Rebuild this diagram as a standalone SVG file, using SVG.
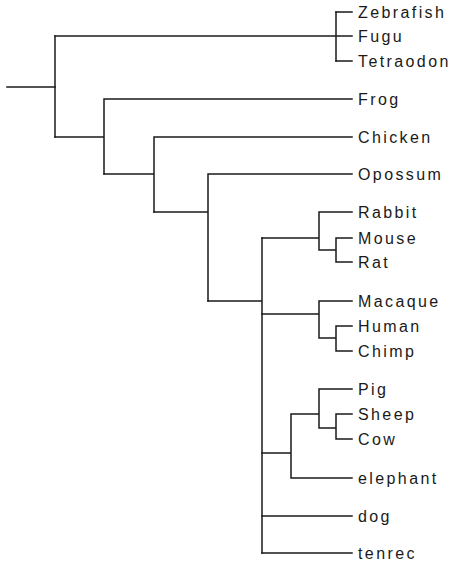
<svg xmlns="http://www.w3.org/2000/svg" width="452" height="568" viewBox="0 0 452 568">
  <style>
    .edge { fill: none; stroke: #1a1a1a; stroke-width: 1.5; stroke-linecap: square; }
    .leaf { font-family: "Liberation Sans", Arial, sans-serif; font-size: 16px; letter-spacing: 2.4px; fill: #1a1a1a; }
  </style>
  <rect width="452" height="568" fill="#ffffff"/>

  <!-- branches of the vertebrate tree -->
  <g id="connectors" class="edge">
    <!-- root -->
    <path d="M7 87 H55"/>
    <path d="M55 36 V137"/>
    <!-- fishes -->
    <path d="M55 36 H352"/>
    <path d="M336 12 V61"/>
    <path d="M336 12 H352 M336 61 H352"/>
    <!-- tetrapods -->
    <path d="M55 137 H104 M104 99 V174 M104 99 H352"/>
    <!-- amniotes -->
    <path d="M104 174 H154 M154 137 V212 M154 137 H352"/>
    <!-- mammals -->
    <path d="M154 212 H208 M208 174 V301 M208 174 H352"/>
    <!-- placentals -->
    <path d="M208 301 H262 M262 238 V553"/>
    <!-- rabbit and rodents -->
    <path d="M262 238 H319 M319 212 V250 M319 212 H352 M319 250 H336 M336 238 V262 M336 238 H352 M336 262 H352"/>
    <!-- primates -->
    <path d="M262 314 H319 M319 301 V338 M319 301 H352 M319 338 H336 M336 326 V351 M336 326 H352 M336 351 H352"/>
    <!-- ungulates and elephant -->
    <path d="M262 453 H291 M291 414 V478 M291 414 H319 M319 389 V428 M319 389 H352 M319 428 H336 M336 414 V439 M336 414 H352 M336 439 H352 M291 478 H352"/>
    <!-- dog and tenrec -->
    <path d="M262 516 H352 M262 553 H352"/>
  </g>

  <g id="zebrafish"><text class="leaf" x="358" y="18">Zebrafish</text></g>
  <g id="fugu"><text class="leaf" x="358" y="42">Fugu</text></g>
  <g id="tetraodon"><text class="leaf" x="358" y="67">Tetraodon</text></g>
  <g id="frog"><text class="leaf" x="358" y="105">Frog</text></g>
  <g id="chicken"><text class="leaf" x="358" y="143">Chicken</text></g>
  <g id="opossum"><text class="leaf" x="358" y="180">Opossum</text></g>
  <g id="rabbit"><text class="leaf" x="358" y="218">Rabbit</text></g>
  <g id="mouse"><text class="leaf" x="358" y="244">Mouse</text></g>
  <g id="rat"><text class="leaf" x="358" y="268">Rat</text></g>
  <g id="macaque"><text class="leaf" x="358" y="307">Macaque</text></g>
  <g id="human"><text class="leaf" x="358" y="332">Human</text></g>
  <g id="chimp"><text class="leaf" x="358" y="357">Chimp</text></g>
  <g id="pig"><text class="leaf" x="358" y="395">Pig</text></g>
  <g id="sheep"><text class="leaf" x="358" y="420">Sheep</text></g>
  <g id="cow"><text class="leaf" x="358" y="445">Cow</text></g>
  <g id="elephant"><text class="leaf" x="358" y="484">elephant</text></g>
  <g id="dog"><text class="leaf" x="358" y="522">dog</text></g>
  <g id="tenrec"><text class="leaf" x="358" y="559">tenrec</text></g>
</svg>
